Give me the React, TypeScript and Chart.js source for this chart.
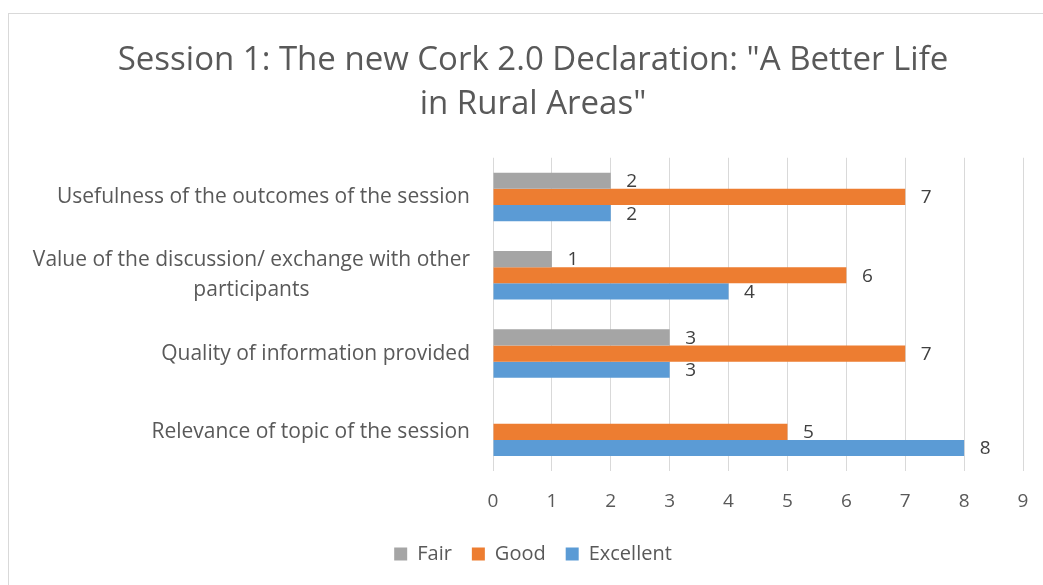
import React, { useEffect, useRef } from "react";
import { Chart, registerables } from "chart.js";

Chart.register(...registerables);

const titleLines = ['Session 1: The new Cork 2.0 Declaration: "A Better Life', 'in Rural Areas"'];
const categories: string[][] = [
  ["Usefulness of the outcomes of the session"],
  ["Value of the discussion/ exchange with other", "participants"],
  ["Quality of information provided"],
  ["Relevance of topic of the session"],
];
const fairValues: (number | null)[] = [2, 1, 3, null];
const goodValues: (number | null)[] = [7, 6, 7, 5];
const excellentValues: (number | null)[] = [2, 4, 3, 8];
const seriesNames = ["Fair", "Good", "Excellent"];
const seriesColors = ["#a5a5a5", "#ed7d31", "#5b9bd5"];
const xTickValues = [0, 1, 2, 3, 4, 5, 6, 7, 8, 9];

const FONT = "'Open Sans', sans-serif";
const TEXT = "#595959";

const axisLabelPlugin = {
  id: "axisLabels",
  afterDraw(chart: any) {
    const ctx = chart.ctx;
    const y = chart.scales.y;
    const x = chart.scales.x;
    ctx.save();
    ctx.fillStyle = TEXT;
    ctx.textAlign = "center";
    ctx.textBaseline = "middle";
    ctx.font = `21px ${FONT}`;
    const lineH = 30;
    categories.forEach((lines, i) => {
      const cy = y.getPixelForValue(i);
      const maxW = Math.max(...lines.map((l) => ctx.measureText(l).width));
      const cx = chart.chartArea.left - 23 - maxW / 2;
      lines.forEach((l, j) => {
        ctx.fillText(l, cx, cy + (j - (lines.length - 1) / 2) * lineH);
      });
    });
    ctx.font = `19px ${FONT}`;
    xTickValues.forEach((v) => {
      ctx.fillText(String(v), x.getPixelForValue(v), chart.chartArea.bottom + 31);
    });
    ctx.restore();
  },
};

const dataLabelPlugin = {
  id: "dataLabels",
  afterDatasetsDraw(chart: any) {
    const ctx = chart.ctx;
    ctx.save();
    ctx.font = `19px ${FONT}`;
    ctx.fillStyle = "#404040";
    ctx.textAlign = "center";
    ctx.textBaseline = "middle";
    chart.data.datasets.forEach((ds: any, di: number) => {
      const meta = chart.getDatasetMeta(di);
      meta.data.forEach((bar: any, i: number) => {
        const v = ds.data[i];
        if (v == null) return;
        ctx.fillText(String(v), bar.x + 21, bar.y + 1);
      });
    });
    ctx.restore();
  },
};

export default function App() {
  const ref = useRef<HTMLCanvasElement>(null);
  useEffect(() => {
    if (!ref.current) return;
    const chart = new Chart(ref.current, {
      type: "bar",
      data: {
        labels: categories.map((c) => c.join(" ")),
        datasets: [fairValues, goodValues, excellentValues].map((d, i) => ({
          label: seriesNames[i],
          data: d,
          backgroundColor: seriesColors[i],
          borderWidth: 0,
          categoryPercentage: 0.62,
          barPercentage: 1.0,
        })),
      },
      options: {
        indexAxis: "y",
        responsive: false,
        animation: false,
        devicePixelRatio: 1,
        layout: { padding: { left: 34, right: 20, top: 0, bottom: 11 } },
        plugins: {
          title: {
            display: true,
            text: titleLines,
            color: TEXT,
            font: { family: FONT, size: 33, weight: "normal", lineHeight: 1.33 },
            padding: { top: 25, bottom: 31 },
          },
          legend: {
            position: "bottom",
            labels: {
              boxWidth: 13,
              boxHeight: 13,
              padding: 20,
              color: TEXT,
              font: { family: FONT, size: 20 },
            },
          },
          tooltip: { enabled: false },
        },
        scales: {
          x: {
            min: xTickValues[0],
            max: xTickValues[xTickValues.length - 1],
            ticks: { stepSize: 1, display: false },
            grid: { color: "#d9d9d9", drawTicks: false },
            border: { display: false },
            afterFit(scale: any) {
              scale.height = 53;
            },
          },
          y: {
            ticks: { display: false },
            grid: { display: false },
            border: { display: false },
            afterFit(scale: any) {
              scale.width = 450;
            },
          },
        },
      },
      plugins: [axisLabelPlugin, dataLabelPlugin],
    } as any);
    return () => chart.destroy();
  }, []);
  return (
    <div
      style={{
        position: "fixed",
        left: 8,
        top: 13,
        width: 1040,
        height: 580,
        border: "1px solid #d9d9d9",
        background: "#fff",
      }}
    >
      <canvas ref={ref} width={1034} height={571} style={{ display: "block" }} />
    </div>
  );
}
